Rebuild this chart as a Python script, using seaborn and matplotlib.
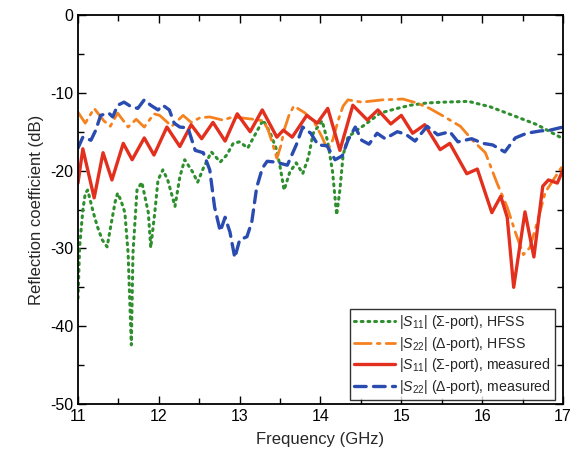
import numpy as np
import pandas as pd
import matplotlib
matplotlib.use("Agg")
import matplotlib.pyplot as plt
import seaborn as sns
from matplotlib.ticker import MultipleLocator

# ---- data ----
s11_hfss_x = [11.00, 11.02, 11.06, 11.09, 11.12, 11.19, 11.24, 11.30, 11.36, 11.42, 11.46, 11.49,
              11.53, 11.58, 11.62, 11.64, 11.66, 11.68, 11.73, 11.79, 11.87, 11.90, 11.95, 11.99,
              12.05, 12.11, 12.20, 12.26, 12.32, 12.42, 12.48, 12.55, 12.65, 12.76, 12.84, 12.92,
              13.00, 13.10, 13.20, 13.29, 13.38, 13.46, 13.50, 13.55, 13.62, 13.70, 13.78, 13.85,
              13.91, 14.02, 14.09, 14.15, 14.20, 14.24, 14.28, 14.34, 14.45, 14.55, 14.74, 14.95,
              15.11, 15.32, 15.52, 15.83, 16.10, 16.43, 16.68, 17.00]
s11_hfss_y = [-36.4, -29.8, -25.1, -22.9, -22.5, -25.4, -27.2, -28.9, -29.8, -26.3, -24.0, -22.9,
              -23.8, -25.4, -30.6, -36.6, -42.4, -30.6, -22.5, -21.5, -25.4, -29.9, -25.4, -21.2,
              -19.9, -21.2, -24.6, -20.8, -18.6, -20.2, -21.5, -19.7, -17.6, -18.9, -18.0, -16.5,
              -16.3, -17.1, -15.2, -13.5, -15.2, -17.4, -19.5, -22.5, -20.2, -19.0, -20.4, -18.3,
              -15.2, -13.6, -16.3, -20.2, -25.7, -22.5, -18.0, -15.7, -14.8, -14.1, -12.6, -12.0,
              -11.6, -11.3, -11.2, -11.1, -11.8, -13.1, -14.1, -15.9]

s22_hfss_x = [11.00, 11.09, 11.20, 11.32, 11.40, 11.49, 11.62, 11.72, 11.82, 11.94, 12.01, 12.16,
              12.30, 12.40, 12.51, 12.63, 12.79, 12.92, 13.17, 13.29, 13.35, 13.40, 13.46, 13.51,
              13.55, 13.61, 13.67, 13.81, 13.93, 14.02, 14.09, 14.15, 14.22, 14.28, 14.34, 14.51,
              14.77, 15.02, 15.19, 15.35, 15.52, 15.73, 15.89, 16.04, 16.18, 16.31, 16.41, 16.51,
              16.59, 16.68, 16.78, 16.88, 17.00]
s22_hfss_y = [-12.5, -13.9, -12.0, -13.6, -14.3, -12.6, -14.4, -13.4, -14.4, -12.7, -12.9, -14.3,
              -12.9, -13.8, -13.2, -13.1, -13.5, -13.1, -13.4, -13.6, -14.7, -16.3, -18.4, -16.8,
              -14.8, -12.9, -11.7, -12.6, -13.9, -15.7, -17.4, -16.1, -13.5, -11.7, -10.9, -11.2,
              -10.9, -10.8, -11.3, -12.0, -13.0, -14.3, -16.2, -17.7, -21.5, -24.7, -27.9, -30.8,
              -29.9, -26.7, -22.8, -21.2, -19.3]

s11_meas_x = [11.00, 11.06, 11.20, 11.31, 11.42, 11.56, 11.67, 11.82, 11.94, 12.10, 12.26, 12.40,
              12.53, 12.67, 12.82, 12.97, 13.13, 13.28, 13.46, 13.54, 13.65, 13.83, 13.96, 14.09,
              14.24, 14.40, 14.58, 14.71, 14.87, 15.00, 15.14, 15.29, 15.48, 15.60, 15.81, 15.94,
              16.12, 16.23, 16.31, 16.39, 16.53, 16.64, 16.75, 16.82, 16.93, 17.00]
s11_meas_y = [-21.6, -17.2, -23.5, -17.7, -21.2, -16.5, -18.6, -15.8, -18.0, -14.4, -16.9, -14.1,
              -15.9, -13.8, -16.2, -12.7, -15.0, -12.2, -15.7, -14.8, -15.7, -12.9, -13.9, -12.0,
              -17.4, -11.6, -13.5, -12.2, -14.0, -12.9, -15.2, -14.1, -17.3, -16.5, -20.4, -19.8,
              -25.4, -23.3, -26.0, -35.0, -25.3, -31.1, -22.0, -21.2, -21.6, -19.9]

s22_meas_x = [11.00, 11.06, 11.16, 11.22, 11.28, 11.38, 11.43, 11.49, 11.57, 11.66, 11.74, 11.82,
              11.90, 11.99, 12.05, 12.13, 12.19, 12.26, 12.36, 12.45, 12.55, 12.63, 12.69, 12.76,
              12.82, 12.88, 12.94, 13.00, 13.09, 13.15, 13.21, 13.28, 13.34, 13.44, 13.59, 13.70,
              13.78, 13.88, 13.97, 14.08, 14.18, 14.27, 14.34, 14.43, 14.51, 14.60, 14.70, 14.80,
              14.95, 15.05, 15.17, 15.32, 15.45, 15.60, 15.70, 15.87, 16.01, 16.13, 16.28, 16.41,
              16.55, 16.72, 16.84, 17.00]
s22_meas_y = [-17.1, -15.7, -16.1, -14.8, -12.9, -12.6, -13.1, -11.6, -11.2, -11.8, -12.0, -10.9,
              -11.6, -12.2, -11.6, -12.2, -13.9, -14.4, -14.5, -17.4, -17.7, -19.9, -24.7, -27.8,
              -26.0, -27.9, -31.2, -28.9, -28.5, -26.6, -22.2, -19.7, -18.8, -18.9, -19.3, -16.7,
              -14.4, -15.2, -16.7, -16.8, -18.6, -18.1, -16.1, -14.4, -16.1, -16.6, -15.2, -15.9,
              -15.0, -15.3, -16.2, -14.3, -15.4, -15.0, -16.3, -15.9, -16.5, -16.7, -17.6, -15.8,
              -15.2, -14.9, -14.8, -14.4]

labels = [r"$|S_{11}|$ ($\Sigma$-port), HFSS",
          r"$|S_{22}|$ ($\Delta$-port), HFSS",
          r"$|S_{11}|$ ($\Sigma$-port), measured",
          r"$|S_{22}|$ ($\Delta$-port), measured"]

x_label = "Frequency (GHz)"
y_label = "Reflection coefficient (dB)"

# ---- style ----
sns.set_style("ticks")
plt.rcParams["font.family"] = ["Liberation Sans", "DejaVu Sans"]
plt.rcParams["mathtext.fontset"] = "custom"
plt.rcParams["mathtext.rm"] = "Liberation Sans"
plt.rcParams["mathtext.it"] = "Liberation Sans:italic"
plt.rcParams["mathtext.bf"] = "Liberation Sans:bold"
plt.rcParams["axes.unicode_minus"] = False

fig = plt.figure(figsize=(5.76, 4.62), dpi=100)
ax = fig.add_axes([0.1354, 0.1255, 0.842, 0.842])

series = [
    (s11_hfss_x, s11_hfss_y, "#2f8f2f", (0, (0.6, 1.6)), 2.2, labels[0]),
    (s22_hfss_x, s22_hfss_y, "#f5821f", (0, (6, 2.2, 1, 2.2)), 2.0, labels[1]),
    (s11_meas_x, s11_meas_y, "#e3301e", "-", 2.4, labels[2]),
    (s22_meas_x, s22_meas_y, "#2a4cb0", (0, (3.5, 2.2)), 2.4, labels[3]),
]
for xs, ys, col, ls, lw, lab in series:
    df = pd.DataFrame({"f": xs, "r": ys})
    kw = {"dash_capstyle": "round", "dash_joinstyle": "round"} if ls != "-" else {"solid_joinstyle": "round"}
    sns.lineplot(data=df, x="f", y="r", ax=ax, color=col, linewidth=lw,
                 linestyle=ls, label=lab, sort=False, estimator=None, **kw)

ax.set_xlim(11, 17)
ax.set_ylim(-50, 0)
ax.xaxis.set_major_locator(MultipleLocator(1))
ax.xaxis.set_minor_locator(MultipleLocator(0.5))
ax.yaxis.set_major_locator(MultipleLocator(10))
ax.yaxis.set_minor_locator(MultipleLocator(5))
ax.tick_params(which="both", direction="in", top=True, right=True, labelsize=11.5,
               colors="black", width=1.0)
ax.tick_params(which="major", length=6)
ax.tick_params(which="minor", length=4)
for sp in ax.spines.values():
    sp.set_linewidth(1.3)
    sp.set_color("black")

ax.set_xlabel(x_label, fontsize=12, labelpad=6)
ax.set_ylabel(y_label, fontsize=12, labelpad=4)

leg = ax.legend(loc="lower right", bbox_to_anchor=(0.984, 0.010), fontsize=10.2,
                frameon=True, fancybox=False, edgecolor="black", handlelength=2.9,
                handletextpad=0.3, borderpad=0.3, labelspacing=0.25, borderaxespad=0.0)
leg.get_frame().set_linewidth(1.0)

fig.savefig("out.png", dpi=100)
